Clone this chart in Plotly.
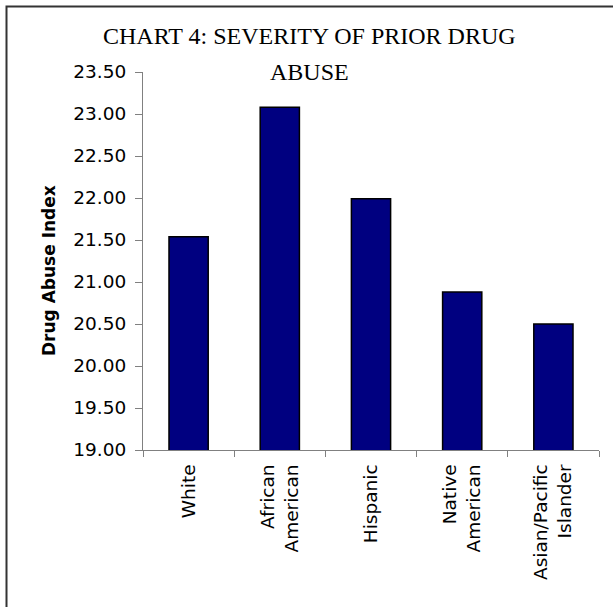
import plotly.graph_objects as go

categories = ["White", "African<br>American", "Hispanic", "Native<br>American", "Asian/Pacific<br>Islander"]
values = [21.54, 23.08, 21.99, 20.88, 20.50]
y_ticks = [19.0, 19.5, 20.0, 20.5, 21.0, 21.5, 22.0, 22.5, 23.0, 23.5]
y_tick_labels = ["%.2f" % v for v in y_ticks]
title_lines = ["CHART 4: SEVERITY OF PRIOR DRUG", "ABUSE"]
y_title = "Drug Abuse Index"

fig = go.Figure()
fig.add_trace(go.Bar(
    x=categories, y=values,
    marker=dict(color="#000080", line=dict(color="black", width=1.5)),
))

L, R, T, B = 143, 14, 72, 157
W, H = 613, 607
pw, ph = W - L - R, H - T - B

def px2x(px):
    return (px - L) / pw

def py2y(py):
    return (H - B - py) / ph

fig.update_layout(
    width=W, height=H,
    margin=dict(l=L, r=R, t=T, b=B),
    paper_bgcolor="white", plot_bgcolor="white",
    showlegend=False,
    bargap=0.57,
    font=dict(family="DejaVu Sans", size=18, color="black"),
    xaxis=dict(
        type="category", showline=True, linecolor="#808080", linewidth=1,
        ticks="outside", tickson="boundaries", ticklen=6, tickcolor="#808080",
        tickangle=-90, showgrid=False, zeroline=False, ticklabelstandoff=6,
        tickfont=dict(family="DejaVu Sans", size=18.5),
    ),
    yaxis=dict(
        range=[19, 23.5], tickvals=y_ticks, ticktext=y_tick_labels,
        showline=True, linecolor="#808080", linewidth=1,
        ticks="outside", ticklen=7, tickcolor="#808080",
        showgrid=False, zeroline=False, ticklabelstandoff=5,
        tickfont=dict(family="DejaVu Sans", size=18.5),
    ),
    annotations=[
        dict(text=title_lines[0], xref="paper", yref="paper",
             x=px2x(309), y=py2y(36), xanchor="center", yanchor="middle", showarrow=False,
             font=dict(family="Liberation Serif", size=24, color="black")),
        dict(text=title_lines[1], xref="paper", yref="paper",
             x=px2x(309), y=py2y(72), xanchor="center", yanchor="middle", showarrow=False,
             font=dict(family="Liberation Serif", size=24, color="black")),
        dict(text="<b>%s</b>" % y_title, xref="paper", yref="paper",
             x=px2x(49), y=py2y(271), xanchor="center", yanchor="middle", showarrow=False,
             textangle=-90, font=dict(family="DejaVu Sans", size=17, color="black")),
    ],
    shapes=[
        dict(type="rect", xref="paper", yref="paper",
             x0=px2x(6.5), x1=px2x(640), y0=py2y(640), y1=py2y(6.5),
             line=dict(color="#333333", width=2), fillcolor="rgba(0,0,0,0)", layer="below"),
    ],
)

fig.write_html("out.html")
